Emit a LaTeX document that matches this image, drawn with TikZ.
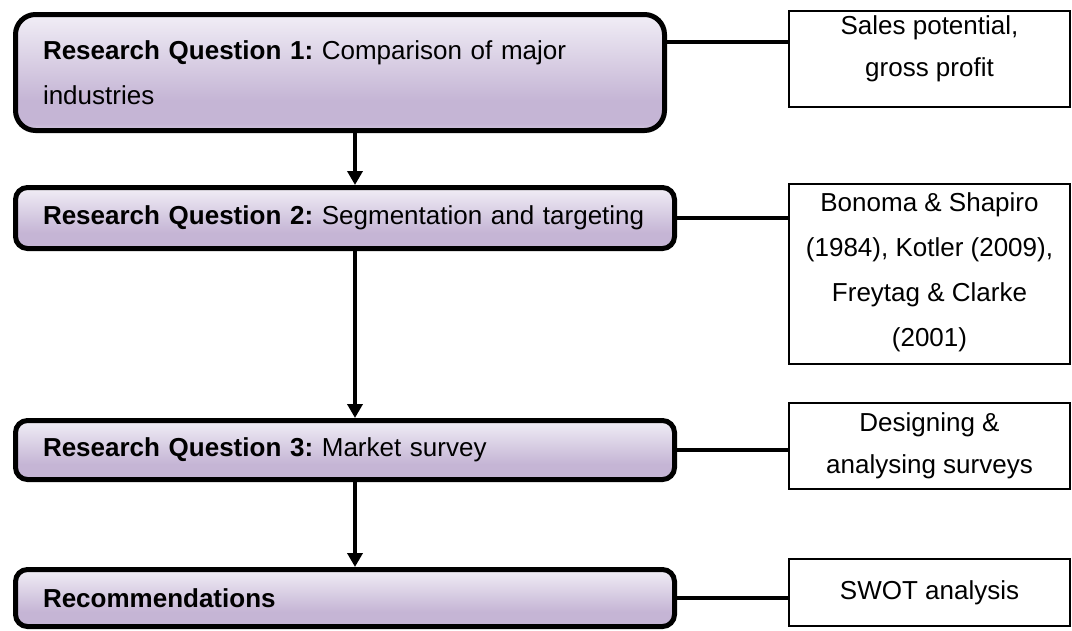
\documentclass[tikz,border=0pt]{standalone}
\usepackage{fontspec}
\setmainfont{Liberation Sans}
\usetikzlibrary{arrows.meta,calc}

\definecolor{lavtop}{HTML}{F1EEF6}
\definecolor{lavmid}{HTML}{C5B5D5}
\definecolor{lavbot}{HTML}{D3C7E0}
% light at the top, deepest lavender near the bottom, a lighter rim below
\pgfdeclareverticalshading{lavshade}{100bp}{color(0bp)=(lavbot); color(25bp)=(lavbot); color(28bp)=(lavmid); color(38bp)=(lavmid); color(75bp)=(lavtop); color(100bp)=(lavtop)}

\newcommand\qfont{\fontsize{26}{42}\selectfont\frenchspacing}
\newcommand\qfontwide{\fontsize{26}{45}\selectfont\frenchspacing}

\begin{document}
\begin{tikzpicture}[x=1pt,y=-1pt,
  qbox/.style={draw=black, line width=5pt, rounded corners=12pt, shade, shading=lavshade,
    anchor=north west, align=left, inner xsep=27.5pt, inner ysep=0pt, font=\qfont},
  sbox/.style={draw=black, line width=2pt, anchor=north west, minimum width=281pt, inner sep=0pt},
  stext/.style={anchor=north, align=center, inner sep=0pt, font=\qfont},
  flow/.style={line width=4pt, -{Triangle[width=15pt,length=14pt]}},
  link/.style={line width=3.5pt}]

\useasboundingbox (0,0) rectangle (1072,630);

% research steps
\node[qbox, rounded corners=20pt, font=\qfontwide, text width=594pt, minimum width=649pt, minimum height=116pt] (q1) at (13,12)
  {\mbox{\textbf{Research Question 1:} Comparison of major}\\industries};
\node[qbox, text width=604pt, minimum width=659pt, minimum height=61pt] (q2) at (13,185)
  {\mbox{\textbf{Research Question 2:} Segmentation and targeting}};
\node[qbox, text width=604pt, minimum width=659pt, minimum height=59pt] (q3) at (13,418)
  {\mbox{\textbf{Research Question 3:} Market survey}};
\node[qbox, text width=604pt, minimum width=659pt, minimum height=57pt] (q4) at (13,567)
  {\textbf{Recommendations}};

% supporting sources
\node[sbox, minimum height=96pt] (sA) at (788,10) {};
\node[sbox, minimum height=180pt] (sB) at (788,183) {};
\node[sbox, minimum height=86pt] (sC) at (788,402) {};
\node[sbox, minimum height=67pt] (sD) at (788,558) {};

\node[stext] (tA) at ($(sA.north)+(0,5)$) {Sales potential,\\gross profit};
\node[stext, font=\qfontwide] (tB) at ($(sB.north)+(0,9)$) {Bonoma \& Shapiro\\(1984), Kotler (2009),\\Freytag \& Clarke\\(2001)};
\node[stext] (tC) at ($(sC.north)+(0,10)$) {Designing \&\\analysing surveys};
\node[stext, anchor=center] (tD) at (sD.center) {SWOT analysis};

% flow between the steps
\coordinate (ax) at (355,0);
\draw[flow] (q1.south -| ax) -- (q2.north -| ax);
\draw[flow] (q2.south -| ax) -- (q3.north -| ax);
\draw[flow] (q3.south -| ax) -- (q4.north -| ax);

% links to the sources
\coordinate (k1) at (0,42);
\draw[link] (q1.east |- k1) -- (sA.west |- k1);
\draw[link] (q2.east) -- (q2.east -| sB.west);
\draw[link] (q3.east) -- (q3.east -| sC.west);
\draw[link] (q4.east) -- (q4.east -| sD.west);
\end{tikzpicture}
\end{document}
